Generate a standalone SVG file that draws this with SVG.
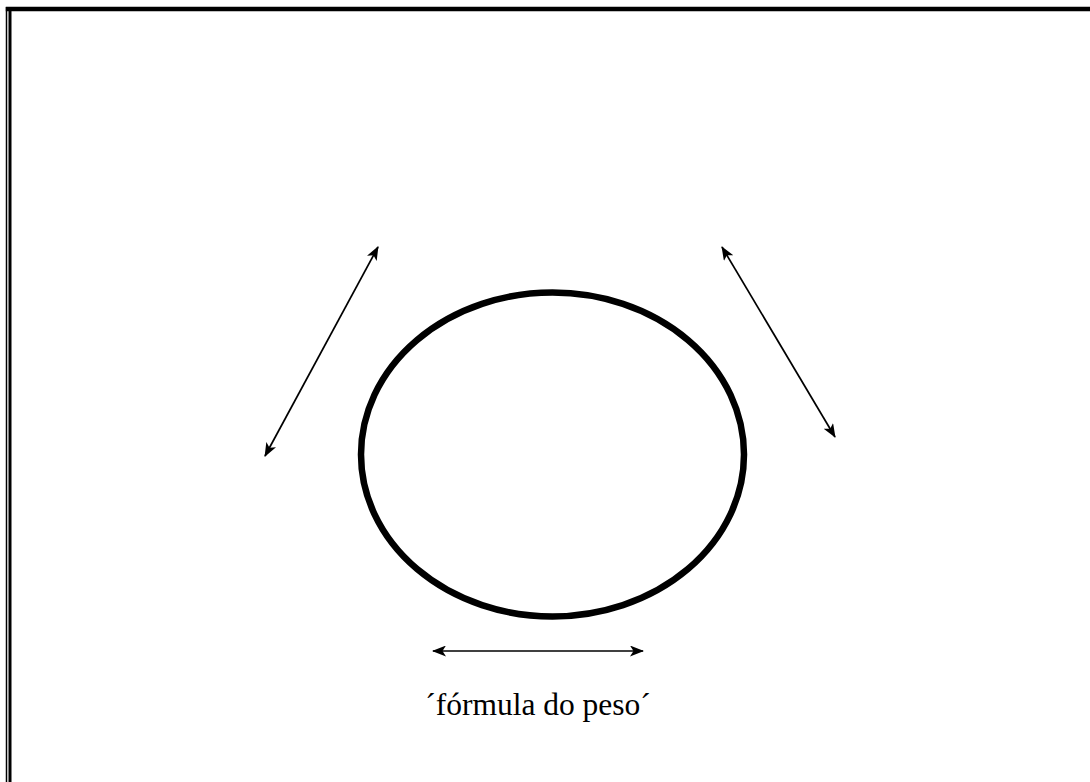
<svg xmlns="http://www.w3.org/2000/svg" width="1090" height="782" viewBox="0 0 1090 782">
<style>
.conn{stroke:#000;stroke-width:1.7;fill:none;marker-start:url(#ah);marker-end:url(#ah)}
.lbl{font-family:"Liberation Serif","Times New Roman",serif;font-size:31.5px;fill:#000}
</style>
<defs>
<marker id="ah" viewBox="0 0 14 11" refX="13" refY="5.5" markerWidth="14" markerHeight="11" markerUnits="userSpaceOnUse" orient="auto-start-reverse">
<path d="M0,0 L14,5.5 L0,11 L3.5,5.5 Z" fill="#000"/>
</marker>
</defs>
<rect width="1090" height="782" fill="#fff"/>
<g id="border">
<line x1="6.5" y1="7" x2="6.5" y2="782" stroke="#000" stroke-width="1.5"/>
<line x1="10" y1="9" x2="10" y2="782" stroke="#000" stroke-width="3"/>
<line x1="5.8" y1="9" x2="1090" y2="9" stroke="#000" stroke-width="4.5"/>
</g>
<g id="circle-node">
<ellipse cx="552.5" cy="454.5" rx="191.5" ry="162" fill="none" stroke="#000" stroke-width="6.5"/>
</g>
<g id="label">
<text class="lbl" x="538" y="715" text-anchor="middle">´fórmula do peso´</text>
</g>
<g id="connectors">
<line class="conn" x1="265" y1="456" x2="378" y2="247"/>
<line class="conn" x1="722" y1="247" x2="835" y2="437"/>
<line class="conn" x1="433" y1="651" x2="643" y2="651"/>
</g>
</svg>
